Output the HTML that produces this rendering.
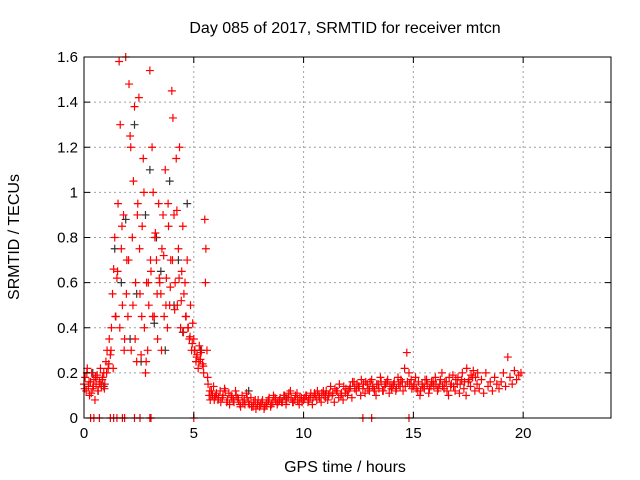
<!DOCTYPE html>
<html><head><meta charset="utf-8"><style>
body{margin:0;background:#fff}
svg{display:block}
text{font-family:"Liberation Sans",sans-serif;fill:#000}
</style></head><body>
<svg id="chart" width="640" height="480" viewBox="0 0 640 480">
<rect width="640" height="480" fill="#fff"/>
<g id="grid"></g>
<g id="marks"></g>
<rect x="84" y="57" width="527" height="361" fill="none" stroke="#000" stroke-width="1"/>
<g id="axes"></g>
<text x="345" y="33" text-anchor="middle" font-size="16">Day 085 of 2017, SRMTID for receiver mtcn</text>
<text x="345" y="472" text-anchor="middle" font-size="16">GPS time / hours</text>
<text transform="translate(19,237) rotate(-90)" text-anchor="middle" font-size="16">SRMTID / TECUs</text>
</svg>
<script>
const xTicks=[0,5,10,15,20];
const yTicks=[0,0.2,0.4,0.6,0.8,1,1.2,1.4,1.6];
const yTickLabels=["0","0.2","0.4","0.6","0.8","1","1.2","1.4","1.6"];
const redSegA={start:0,step:0.05,values:[0.15,0.18,0.12,0.22,0.14,0.1,0.16,0.2,0.13,0.17,0.08,0.15,0.19,0.12,0.16,0.22,0.14,0.18,0.2,0.15,
0.25,0.3,0.22,0.35,0.28,0.4,0.55,0.66,0.8,0.45,
0.62,0.95,1.58,1.3,0.75,0.5,0.9,0.35,1.6,0.7,
0.45,1.48,1.25,0.3,0.8,1.05,1.38,0.6,0.25,0.95,
1.42,0.55,0.28,0.85,1.15,0.4,0.2,0.6,0.3,0.5,
1.54,0.65,1.2,1.0,0.45,0.82,0.7,0.35,0.95,0.6,
0.55,0.75,0.9,0.45,1.1,0.62,0.4,0.85,0.5,0.7,
1.45,1.33,0.9,0.6,1.15,0.5,0.75,1.2,0.4,0.65,
0.85,0.55,0.6,0.45,0.7,0.4,0.35,0.5,0.3,0.42,
0.35,0.3,0.25,0.28,0.22,0.32,0.26,0.3,0.24,0.2,
0.88,0.75,0.3,0.15,0.1,0.08,0.12,0.1,0.14,0.09]};
const redSegB={start:6,step:0.1,values:[0.1,0.08,0.12,0.09,0.13,0.07,0.11,0.1,0.08,0.12,
0.09,0.06,0.1,0.08,0.11,0.07,0.09,0.05,0.08,0.06,
0.05,0.07,0.04,0.06,0.08,0.05,0.07,0.09,0.06,0.08,
0.07,0.1,0.06,0.09,0.12,0.07,0.08,0.11,0.06,0.09,
0.08,0.1,0.07,0.09,0.06,0.11,0.08,0.1,0.07,0.12,
0.09,0.08,0.11,0.1,0.07,0.12,0.09,0.1,0.08,0.11,
0.1,0.13,0.09,0.16,0.12,0.14,0.1,0.13,0.11,0.15,
0.12,0.17,0.13,0.1,0.15,0.18,0.12,0.14,0.16,0.11,
0.13,0.15,0.12,0.18,0.14,0.16,0.22,0.29,0.2,0.17,
0.14,0.18,0.12,0.1,0.15,0.13,0.17,0.11,0.14,0.16,
0.18,0.12,0.15,0.2,0.13,0.16,0.1,0.14,0.19,0.12,
0.15,0.11,0.17,0.13,0.1,0.16,0.14,0.18,0.12,0.15,
0.13,0.17,0.11,0.2,0.14,0.16,0.12,0.18,0.15,0.13,
0.16,0.2,0.14,0.27,0.18,0.15,0.21,0.17,0.19,0.2]};
const redSegC={start:0.03,step:0.1,values:[0.13,0.2,0.16,0.11,0.14,0.18,0.12,0.15,0.17,0.13,
0.2,0.24,0.3,0.22,0.45,0.65,0.4,0.85,0.3,0.55,0.7,1.2,0.5,0.35,0.9,0.75,0.45,1.0,0.25,0.6,
0.7,0.45,0.8,0.55,0.62,0.3,0.72,0.5,0.95,0.58,0.7,0.48,0.92,0.62,0.52,0.38,0.45,0.4,0.36,0.33,
0.3,0.27,0.25,0.29,0.23,0.6,0.18,0.12,0.1,0.08,
0.11,0.09,0.07,0.1,0.12,0.08,0.06,0.09,0.07,0.1,0.08,0.05,0.07,0.06,0.09,0.06,0.05,0.07,0.04,0.08,
0.06,0.08,0.05,0.07,0.09,0.06,0.1,0.08,0.07,0.09,0.07,0.1,0.08,0.11,0.09,0.07,0.1,0.08,0.09,0.07,
0.09,0.1,0.08,0.11,0.09,0.1,0.12,0.09,0.11,0.1,0.12,0.1,0.14,0.11,0.13,0.12,0.15,0.11,0.14,0.13,
0.12,0.14,0.16,0.13,0.15,0.14,0.17,0.15,0.16,0.13,0.16,0.14,0.12,0.15,0.13,0.16,0.12,0.15,0.17,0.14,
0.14,0.16,0.13,0.15,0.17,0.12,0.14,0.16,0.15,0.13,0.15,0.13,0.16,0.12,0.14,0.17,0.15,0.13,0.16,0.14,
0.15,0.13,0.17,0.14,0.16,0.12,0.18,0.15,0.14,0.17,0.18,0.15,0.2,0.16,0.22,0.17,0.19,0.21,0.18,0.2]};
const zeroTimes=[0.3,0.45,0.7,1.2,1.35,1.5,1.75,1.85,2.3,2.55,3.0,3.05,5.0,12.7,13.1,14.8];
const blackTimes=[1.4,1.7,1.9,2.1,2.3,2.4,2.6,2.8,3.0,3.2,3.3,3.5,3.7,3.9,4.1,4.3,4.5,4.7,0.4,0.9,5.3,7.5,9.2,11.0];
const blackValues=[0.75,0.6,0.88,0.35,1.3,0.55,0.25,0.9,1.1,0.42,0.8,0.65,0.3,1.05,0.5,0.7,0.38,0.95,0.2,0.14,0.3,0.12,0.09,0.1];

const X0=84,X1=611,Y0=418,Y1=57;
const xs=v=>X0+(v/24)*(X1-X0);
const ys=v=>Y0-(v/1.6)*(Y0-Y1);
const NS="http://www.w3.org/2000/svg";
const grid=document.getElementById('grid'),axes=document.getElementById('axes'),marks=document.getElementById('marks');
function mk(tag,attrs,parent){const e=document.createElementNS(NS,tag);for(const k in attrs)e.setAttribute(k,attrs[k]);parent.appendChild(e);return e;}
xTicks.forEach(t=>{
  const x=xs(t);
  if(t>0){const g=mk('line',{x1:x,x2:x,y1:Y0,y2:Y1,stroke:'#a0a0a0','stroke-dasharray':'2,3'},grid);
  
  }
  const tk=mk('path',{d:`M${x},${Y0}v-6M${x},${Y1}v6`,stroke:'#000'},axes);
  
  
  const lb=mk('text',{x:x,y:Y0+20,'text-anchor':'middle','font-size':'15'},axes);
  lb.textContent=String(t);
  
  
});
yTicks.forEach((t,i)=>{
  const y=ys(t);
  if(t>0&&t<1.6){const g=mk('line',{x1:X0,x2:X1,y1:y,y2:y,stroke:'#a0a0a0','stroke-dasharray':'2,3'},grid);
  
  }
  const tk=mk('path',{d:`M${X0},${y}h6M${X1},${y}h-6`,stroke:'#000'},axes);
  
  
  const lb=mk('text',{x:X0-6,y:y+5,'text-anchor':'end','font-size':'15'},axes);
  lb.textContent=yTickLabels[i];
  
  
});
function plus(t,v,color,name){
  const x=xs(t),y=ys(v);
  const p=mk('path',{d:`M${x-4},${y}h8M${x},${y-4}v8`,stroke:color,'stroke-width':'1.2',fill:'none'},marks);
  
  
}
blackTimes.forEach((t,i)=>plus(t,blackValues[i],'#333','black-point'));
[redSegA,redSegB,redSegC].forEach(s=>s.values.forEach((v,i)=>plus(s.start+i*s.step,v,'#ff0000','red-point')));
zeroTimes.forEach(t=>plus(t,0,'#ff0000','zero-point'));
</script>
</body></html>
